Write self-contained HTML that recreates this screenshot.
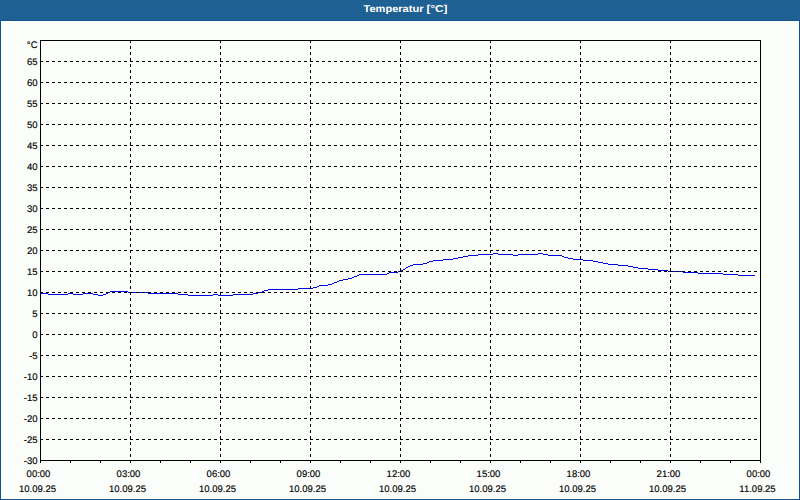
<!DOCTYPE html><html><head><meta charset="utf-8"><style>
html,body{margin:0;padding:0;width:800px;height:500px;overflow:hidden;background:#115590;}
svg{position:absolute;left:0;top:0;display:block}
text{font-family:"Liberation Sans",sans-serif;text-rendering:geometricPrecision}
</style></head><body>
<svg width="800" height="500" viewBox="0 0 800 500" shape-rendering="crispEdges">
<rect x="0" y="0" width="800" height="500" fill="#115590"/>
<defs><pattern id="dth" x="0" y="0" width="8" height="20" patternUnits="userSpaceOnUse">
<rect width="8" height="20" fill="#1e6090"/><path d="M0 0h1v1h-1zM4 1h1v1h-1zM7 2h1v1h-1zM2 2h1v1h-1zM3 4h1v1h-1zM5 5h1v1h-1zM0 5h1v1h-1zM3 7h1v1h-1zM7 8h1v1h-1zM1 9h1v1h-1zM5 9h1v1h-1zM0 11h1v1h-1zM4 11h1v1h-1zM2 13h1v1h-1zM6 13h1v1h-1zM1 15h1v1h-1zM5 15h1v1h-1zM0 17h1v1h-1zM4 17h1v1h-1zM2 19h1v1h-1zM6 19h1v1h-1z" fill="#2262aa"/></pattern></defs>
<rect x="0" y="0" width="800" height="20" fill="url(#dth)"/>
<rect x="1" y="21" width="798" height="478" fill="#ffffff"/>
<rect x="2" y="22" width="796" height="476" fill="#fbfdfa"/>
<g fill="#ffffff" font-size="10" font-weight="bold"><text x="363.5" y="12" textLength="60" lengthAdjust="spacingAndGlyphs">Temperatur</text><text x="426.5" y="12" textLength="21" lengthAdjust="spacingAndGlyphs">[°C]</text></g>
<path d="M40 293h8v1h-8zM48 294h20v1h-20zM68 293h5v1h-5zM73 294h10v1h-10zM83 293h10v1h-10zM93 294h5v1h-5zM98 295h5v1h-5zM103 294h3v1h-3zM106 293h2v1h-2zM108 292h2v1h-2zM110 291h18v1h-18zM128 292h20v1h-20zM148 293h30v1h-30zM178 294h10v1h-10zM188 295h25v1h-25zM213 294h5v1h-5zM218 295h15v1h-15zM233 294h20v1h-20zM253 293h5v1h-5zM258 292h4v1h-4zM262 291h2v1h-2zM264 290h4v1h-4zM268 289h30v1h-30zM298 288h15v1h-15zM313 287h4v1h-4zM317 286h2v1h-2zM319 285h9v1h-9zM328 284h4v1h-4zM332 283h2v1h-2zM334 282h3v1h-3zM337 281h2v1h-2zM339 280h4v1h-4zM343 279h5v1h-5zM348 278h4v1h-4zM352 277h2v1h-2zM354 276h3v1h-3zM357 275h2v1h-2zM359 274h28v1h-28zM387 273h2v1h-2zM389 272h9v1h-9zM398 271h2v1h-2zM400 270h3v1h-3zM403 269h2v1h-2zM405 268h1v1h-1zM406 267h2v1h-2zM408 266h2v1h-2zM410 265h3v1h-3zM413 264h10v1h-10zM423 263h4v1h-4zM427 262h2v1h-2zM429 261h4v1h-4zM433 260h10v1h-10zM443 259h10v1h-10zM453 258h5v1h-5zM458 257h5v1h-5zM463 256h5v1h-5zM468 255h10v1h-10zM478 254h15v1h-15zM493 253h5v1h-5zM498 254h15v1h-15zM513 255h5v1h-5zM518 254h20v1h-20zM538 253h5v1h-5zM543 254h5v1h-5zM548 255h14v1h-14zM562 256h2v1h-2zM564 257h4v1h-4zM568 258h5v1h-5zM573 259h10v1h-10zM583 260h10v1h-10zM593 261h5v1h-5zM598 262h5v1h-5zM603 263h5v1h-5zM608 264h10v1h-10zM618 265h10v1h-10zM628 266h5v1h-5zM633 267h5v1h-5zM638 268h10v1h-10zM648 269h10v1h-10zM658 270h10v1h-10zM668 271h15v1h-15zM683 272h15v1h-15zM698 273h25v1h-25zM723 274h15v1h-15zM738 275h17v1h-17z" fill="#0000e0"/>
<path d="M40 61.5H760M40 82.5H760M40 103.5H760M40 124.5H760M40 145.5H760M40 166.5H760M40 187.5H760M40 208.5H760M40 229.5H760M40 250.5H760M40 271.5H760M40 292.5H760M40 313.5H760M40 334.5H760M40 355.5H760M40 376.5H760M40 397.5H760M40 418.5H760M40 439.5H760M130.5 40V460M220.5 40V460M310.5 40V460M400.5 40V460M490.5 40V460M580.5 40V460M670.5 40V460" stroke="#000" stroke-width="1" stroke-dasharray="3 3" fill="none"/>
<path d="M40.5 40V460.5H760.5V40.5H40" stroke="#000" stroke-width="1" fill="none"/>
<path d="M40.5 460V463M70.5 460V463M100.5 460V463M130.5 460V463M160.5 460V463M190.5 460V463M220.5 460V463M250.5 460V463M280.5 460V463M310.5 460V463M340.5 460V463M370.5 460V463M400.5 460V463M430.5 460V463M460.5 460V463M490.5 460V463M520.5 460V463M550.5 460V463M580.5 460V463M610.5 460V463M640.5 460V463M670.5 460V463M700.5 460V463M730.5 460V463M760.5 460V463" stroke="#000" stroke-width="1" fill="none"/>
<g font-size="9.5" fill="#000" stroke="#000" stroke-width="0.15" text-anchor="end" shape-rendering="auto">
<text x="37.5" y="48">°C</text>
<text x="37.5" y="65">65</text>
<text x="37.5" y="86">60</text>
<text x="37.5" y="107">55</text>
<text x="37.5" y="128">50</text>
<text x="37.5" y="149">45</text>
<text x="37.5" y="170">40</text>
<text x="37.5" y="191">35</text>
<text x="37.5" y="212">30</text>
<text x="37.5" y="233">25</text>
<text x="37.5" y="254">20</text>
<text x="37.5" y="275">15</text>
<text x="37.5" y="296">10</text>
<text x="37.5" y="317">5</text>
<text x="37.5" y="338">0</text>
<text x="37.5" y="359">-5</text>
<text x="37.5" y="380">-10</text>
<text x="37.5" y="401">-15</text>
<text x="37.5" y="422">-20</text>
<text x="37.5" y="443">-25</text>
<text x="37.5" y="464">-30</text>
</g>
<g font-size="9.5" fill="#000" stroke="#000" stroke-width="0.15" text-anchor="middle" shape-rendering="auto">
<text x="38.5" y="477">00:00</text>
<text x="37.5" y="492">10.09.25</text>
<text x="128.5" y="477">03:00</text>
<text x="127.5" y="492">10.09.25</text>
<text x="218.5" y="477">06:00</text>
<text x="217.5" y="492">10.09.25</text>
<text x="308.5" y="477">09:00</text>
<text x="307.5" y="492">10.09.25</text>
<text x="398.5" y="477">12:00</text>
<text x="397.5" y="492">10.09.25</text>
<text x="488.5" y="477">15:00</text>
<text x="487.5" y="492">10.09.25</text>
<text x="578.5" y="477">18:00</text>
<text x="577.5" y="492">10.09.25</text>
<text x="668.5" y="477">21:00</text>
<text x="667.5" y="492">10.09.25</text>
<text x="758.5" y="477">00:00</text>
<text x="757.5" y="492">11.09.25</text>
</g>
</svg></body></html>
